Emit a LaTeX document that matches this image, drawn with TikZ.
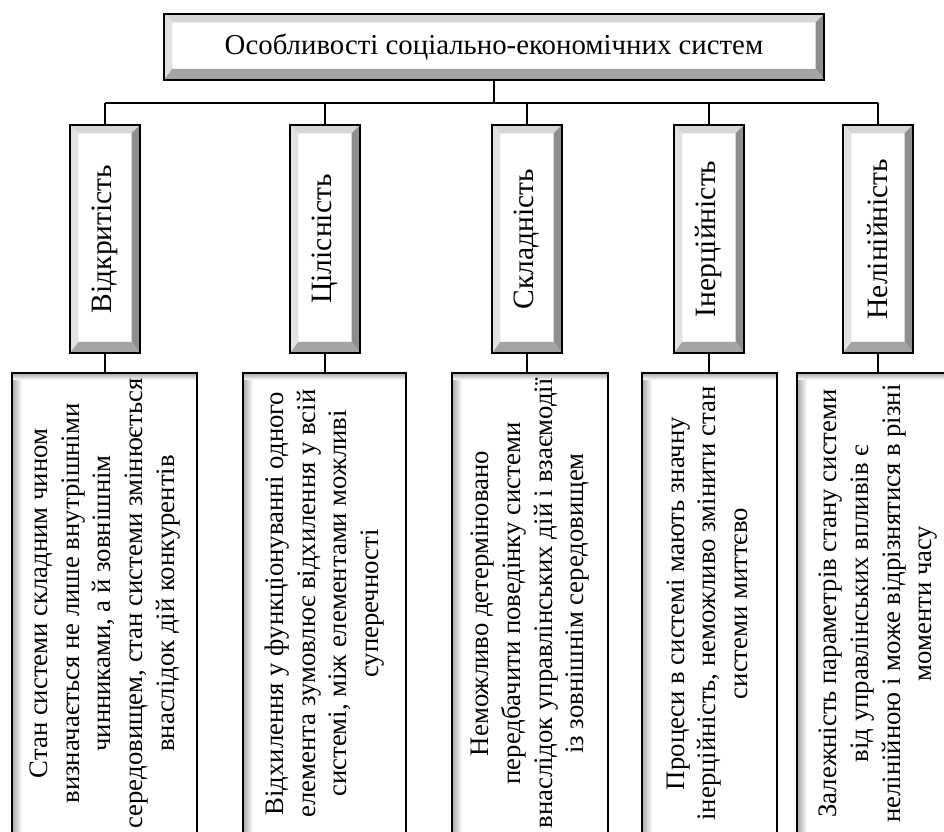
\documentclass[tikz,border=0pt]{standalone}
\usepackage{fontspec}
\setmainfont{Liberation Serif}
\usepackage{graphicx}
\definecolor{bvtop}{HTML}{D6D6D6}
\definecolor{bvleft}{HTML}{E2E2E2}
\definecolor{bvright}{HTML}{8E8E8E}
\definecolor{bvbottom}{HTML}{A4A4A4}
\begin{document}
\begin{tikzpicture}[x=0.025cm, y=-0.025cm,
  every node/.style={font=\fontsize{19}{22.5}\selectfont},
  bevelbox/.style={draw, line width=1.3pt, fill=white, inner sep=0pt,
    font=\fontsize{21}{25}\selectfont,
    path picture={
      \path (path picture bounding box.north west) coordinate (nw)
            (path picture bounding box.north east) coordinate (ne)
            (path picture bounding box.south west) coordinate (sw)
            (path picture bounding box.south east) coordinate (se);
      \fill [bvtop] (nw) -- (ne) -- ([shift={(-6pt,-6pt)}]ne) -- ([shift={(6pt,-6pt)}]nw) -- cycle;
      \fill [bvleft] (nw) -- ([shift={(6pt,-6pt)}]nw) -- ([shift={(6pt,8pt)}]sw) -- (sw) -- cycle;
      \fill [bvright] (ne) -- (se) -- ([shift={(-6pt,8pt)}]se) -- ([shift={(-6pt,-6pt)}]ne) -- cycle;
      \fill [bvbottom] (sw) -- ([shift={(6pt,8pt)}]sw) -- ([shift={(-6pt,8pt)}]se) -- (se) -- cycle;
    }},
  descbox/.style={draw, line width=1.3pt, fill=white, inner sep=0pt, minimum height=11.525cm,
    path picture={
      \path (path picture bounding box.north west) coordinate (nw)
            (path picture bounding box.north east) coordinate (ne)
            (path picture bounding box.south west) coordinate (sw);
      \shade [left color=gray!70, right color=white] (nw) rectangle ([shift={(7pt,0pt)}]sw);
      \shade [top color=gray!70, bottom color=white] (nw) rectangle ([shift={(0pt,-5pt)}]ne);
    }},
  link/.style={line width=1.4pt}]

\useasboundingbox (0,0) rectangle (944,832);
\clip (0,0) rectangle (944,832);

\node [bevelbox, minimum width=16.5cm, minimum height=1.65cm, font=\fontsize{20.5}{24}\selectfont] (s) at (494,47) {Особливості соціально-економічних систем};

\node [bevelbox, minimum width=1.75cm, minimum height=5.7cm] (p1) at (105,239) {\rotatebox{90}{Відкритість}};
\node [bevelbox, minimum width=1.75cm, minimum height=5.7cm] (p2) at (325,239) {\rotatebox{90}{Цілісність}};
\node [bevelbox, minimum width=1.75cm, minimum height=5.7cm] (p3) at (527,239) {\rotatebox{90}{Складність}};
\node [bevelbox, minimum width=1.75cm, minimum height=5.7cm] (p4) at (709,239) {\rotatebox{90}{Інерційність}};
\node [bevelbox, minimum width=1.75cm, minimum height=5.7cm] (p5) at (878,239) {\rotatebox{90}{Нелінійність}};

\node [descbox, minimum width=4.625cm] (d1) at (104.5,603.5) {\rotatebox{90}{\begin{tabular}{@{}c@{}}Стан системи складним чином\\визначається не лише внутрішніми\\чинниками, а й зовнішнім\\середовищем, стан системи змінюється\\внаслідок дій конкурентів\end{tabular}}};
\node [descbox, minimum width=4.075cm] (d2) at (324.5,603.5) {\rotatebox{90}{\begin{tabular}{@{}c@{}}Відхилення у функціонуванні одного\\елемента зумовлює відхилення у всій\\системі, між елементами можливі\\суперечності\end{tabular}}};
\node [descbox, minimum width=3.9cm] (d3) at (530,603.5) {\rotatebox{90}{\begin{tabular}{@{}c@{}}Неможливо детерміновано\\передбачити поведінку системи\\внаслідок управлінських дій і взаємодії\\із зовнішнім середовищем\end{tabular}}};
\node [descbox, minimum width=3.375cm] (d4) at (709.5,603.5) {\rotatebox{90}{\begin{tabular}{@{}c@{}}Процеси в системі мають значну\\інерційність, неможливо змінити стан\\системи миттєво\end{tabular}}};
\node [descbox, minimum width=4.05cm] (d5) at (878,603.5) {\rotatebox{90}{\begin{tabular}{@{}c@{}}Залежність параметрів стану системи\\від управлінських впливів є\\нелінійною і може відрізнятися в різні\\моменти часу\end{tabular}}};

\coordinate (bus) at (0,103);

\draw [link] (s.south) -- (s.south |- bus);
\draw [link] (p1.north |- bus) -- (p5.north |- bus);

\draw [link] (p1.north) -- (p1.north |- bus);
\draw [link] (p2.north) -- (p2.north |- bus);
\draw [link] (p3.north) -- (p3.north |- bus);
\draw [link] (p4.north) -- (p4.north |- bus);
\draw [link] (p5.north) -- (p5.north |- bus);

\draw [link] (p1.south) -- (p1.south |- d1.north);
\draw [link] (p2.south) -- (p2.south |- d2.north);
\draw [link] (p3.south) -- (p3.south |- d3.north);
\draw [link] (p4.south) -- (p4.south |- d4.north);
\draw [link] (p5.south) -- (p5.south |- d5.north);
\end{tikzpicture}
\end{document}
